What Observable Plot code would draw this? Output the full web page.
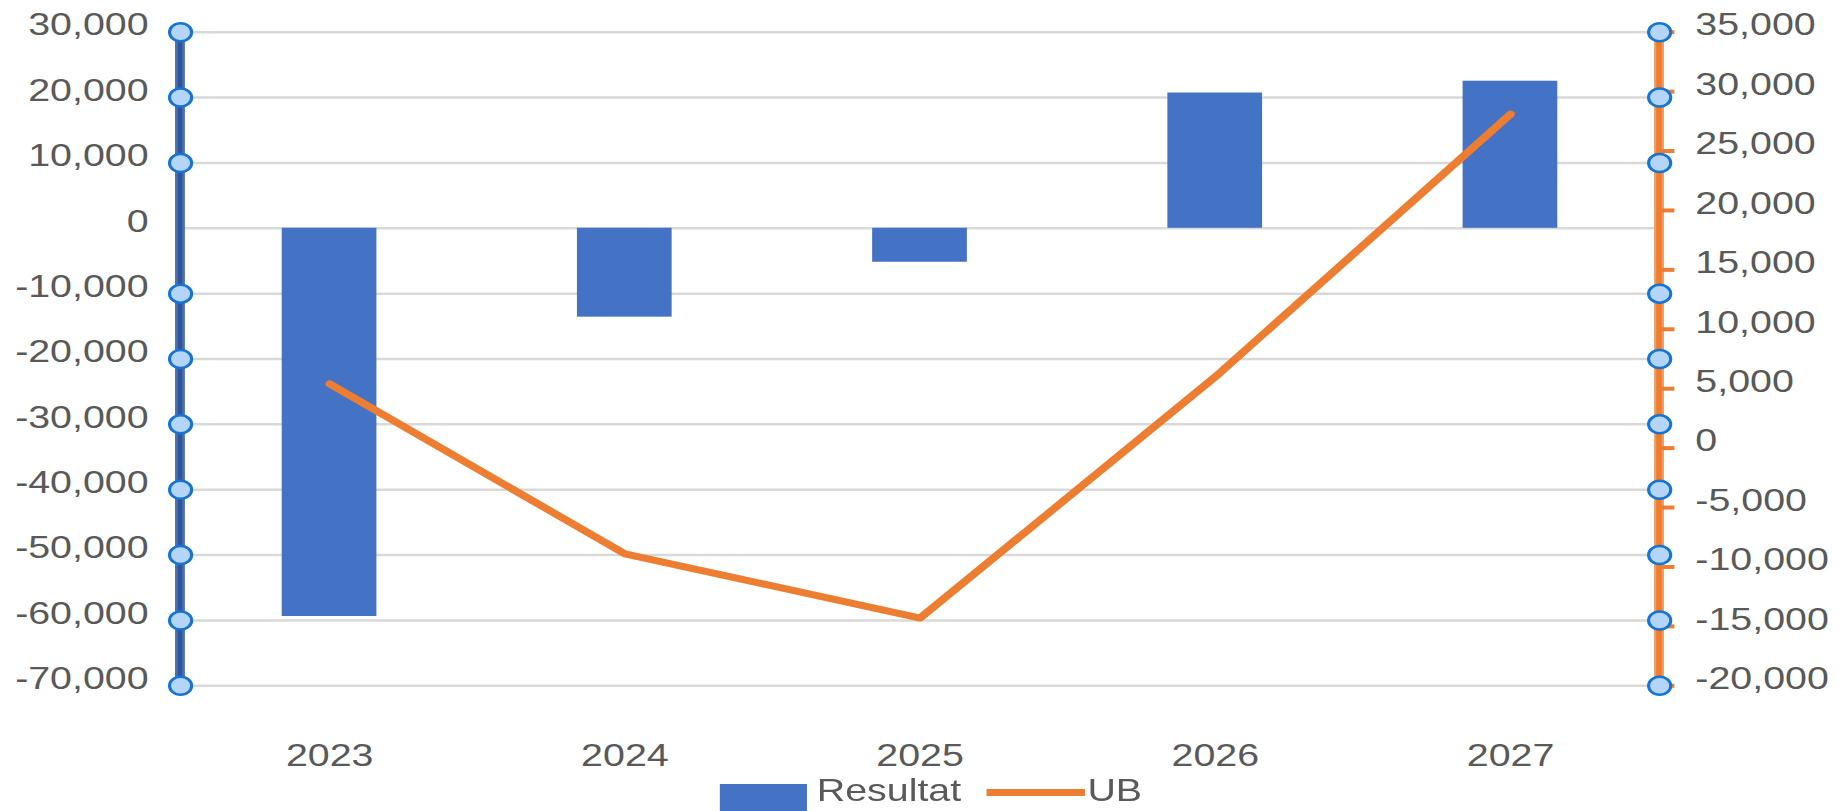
<!DOCTYPE html>
<html>
<head>
<meta charset="utf-8">
<script src="https://cdn.jsdelivr.net/npm/d3@7"></script>
<script src="https://cdn.jsdelivr.net/npm/@observablehq/plot@0.6"></script>
<style>
  html, body { margin: 0; padding: 0; background: #fff; overflow: hidden; }
  #wrap { position: relative; width: 1495px; height: 811px; overflow: hidden; transform: scaleX(1.2301); transform-origin: 0 0; font-family: "Liberation Sans", Arial, sans-serif; }
  #legend { position: absolute; left: 0; top: 775px; height: 30px; width: 1495px; }
  #legend .sw { position: absolute; }
  #legend .lab { position: absolute; top: 0; height: 30px; line-height: 30px; font-size: 32px; color: #595959; }
</style>
</head>
<body>
<div id="wrap">
  <div id="chart"></div>
  <div id="legend"></div>
</div>
<script>
const years = ["2023", "2024", "2025", "2026", "2027"];
const resultat = [-59400, -13600, -5200, 20700, 22500];
const ub = [5400, -8900, -14300, 6000, 28100];
const leftTicks = [30000, 20000, 10000, 0, -10000, -20000, -30000, -40000, -50000, -60000, -70000];
const rightTicks = [35000, 30000, 25000, 20000, 15000, 10000, 5000, 0, -5000, -10000, -15000, -20000];
const leftDomain = [-70000, 30000];
const rightDomain = [-20000, 35000];
const seriesNames = ["Resultat", "UB"];
const colors = {bar: "#4472C4", line: "#ED7D31", text: "#595959", grid: "#d9d9d9"};

const fmt = d3.formatLocale({decimal: ".", thousands: ",", grouping: [3], currency: ["$", ""], minus: "-"}).format(",");
const k = (leftDomain[1] - leftDomain[0]) / (rightDomain[1] - rightDomain[0]);
const toLeft = v => leftDomain[0] + (v - rightDomain[0]) * k;
const fromLeft = v => rightDomain[0] + (v - leftDomain[0]) / k;

const data = years.map((y, i) => ({year: y, resultat: resultat[i], ub: ub[i]}));
const dotTicks = leftTicks.filter(d => d !== 0);

function edgeLine(side, outer, outerW, inner, innerW) {
  return (index, scales, values, dims) => {
    const x = side === "left" ? dims.marginLeft : dims.width - dims.marginRight;
    const g = d3.create("svg:g");
    [[outer, outerW], [inner, innerW]].forEach(([c, w]) => {
      g.append("line").attr("x1", x).attr("x2", x)
        .attr("y1", dims.marginTop).attr("y2", dims.height - dims.marginBottom)
        .attr("stroke", c).attr("stroke-width", w);
    });
    return g.node();
  };
}

const chart = Plot.plot({
  width: 1495,
  height: 775,
  marginLeft: 146.3,
  marginRight: 146.3,
  marginTop: 31.7,
  marginBottom: 89.7,
  style: {fontFamily: "'Liberation Sans', Arial, sans-serif", fontSize: "32px", background: "#fff"},
  x: {domain: years, paddingInner: 0.68, paddingOuter: 0.34, label: null},
  y: {domain: leftDomain, label: null},
  marks: [
    Plot.gridY(leftTicks, {stroke: colors.grid, strokeOpacity: 1, strokeWidth: 2.5}),
    Plot.barY(data, {x: "year", y: "resultat", fill: colors.bar}),
    Plot.lineY(data, {x: "year", y: d => toLeft(d.ub), stroke: colors.line, strokeWidth: 7, strokeLinecap: "round", strokeLinejoin: "round"}),
    edgeLine("left", "#4a6eb3", 8, "#2f5597", 3.5),
    edgeLine("right", "#f39a5c", 8, "#ED7D31", 4.5),
    Plot.axisY({ticks: rightTicks.map(toLeft), anchor: "right", tickSize: 11.5, stroke: colors.line, strokeWidth: 4, strokeOpacity: 1, tickFormat: () => "", label: null}),
    Plot.dot(dotTicks, {y: d => d, frameAnchor: "left", r: 9, fill: "#b4d5f7", stroke: "#1674d2", strokeWidth: 2.5}),
    Plot.dot(dotTicks, {y: d => d, frameAnchor: "right", r: 9, fill: "#b4d5f7", stroke: "#1674d2", strokeWidth: 2.5}),
    Plot.axisY({ticks: leftTicks, anchor: "left", tickSize: 0, tickPadding: 26, tickFormat: fmt, color: colors.text, fontSize: 32, dy: -7, label: null}),
    Plot.axisY({ticks: rightTicks.map(toLeft), anchor: "right", tickSize: 0, tickPadding: 29, tickFormat: d => fmt(Math.round(fromLeft(d))), color: colors.text, fontSize: 32, dy: -7, label: null}),
    Plot.axisX({anchor: "bottom", tickSize: 0, tickPadding: 57, color: colors.text, fontSize: 32, label: null})
  ]
});
document.getElementById("chart").appendChild(chart);

// Legend
const legend = document.getElementById("legend");
legend.innerHTML = `
  <div class="sw" style="left:585px; top:9px; width:71px; height:27px; background:${colors.bar}"></div>
  <div class="lab" style="left:664px">${seriesNames[0]}</div>
  <div class="sw" style="left:802px; top:14px; width:80px; height:7px; background:${colors.line}"></div>
  <div class="lab" style="left:884px">${seriesNames[1]}</div>
`;
</script>
</body>
</html>
